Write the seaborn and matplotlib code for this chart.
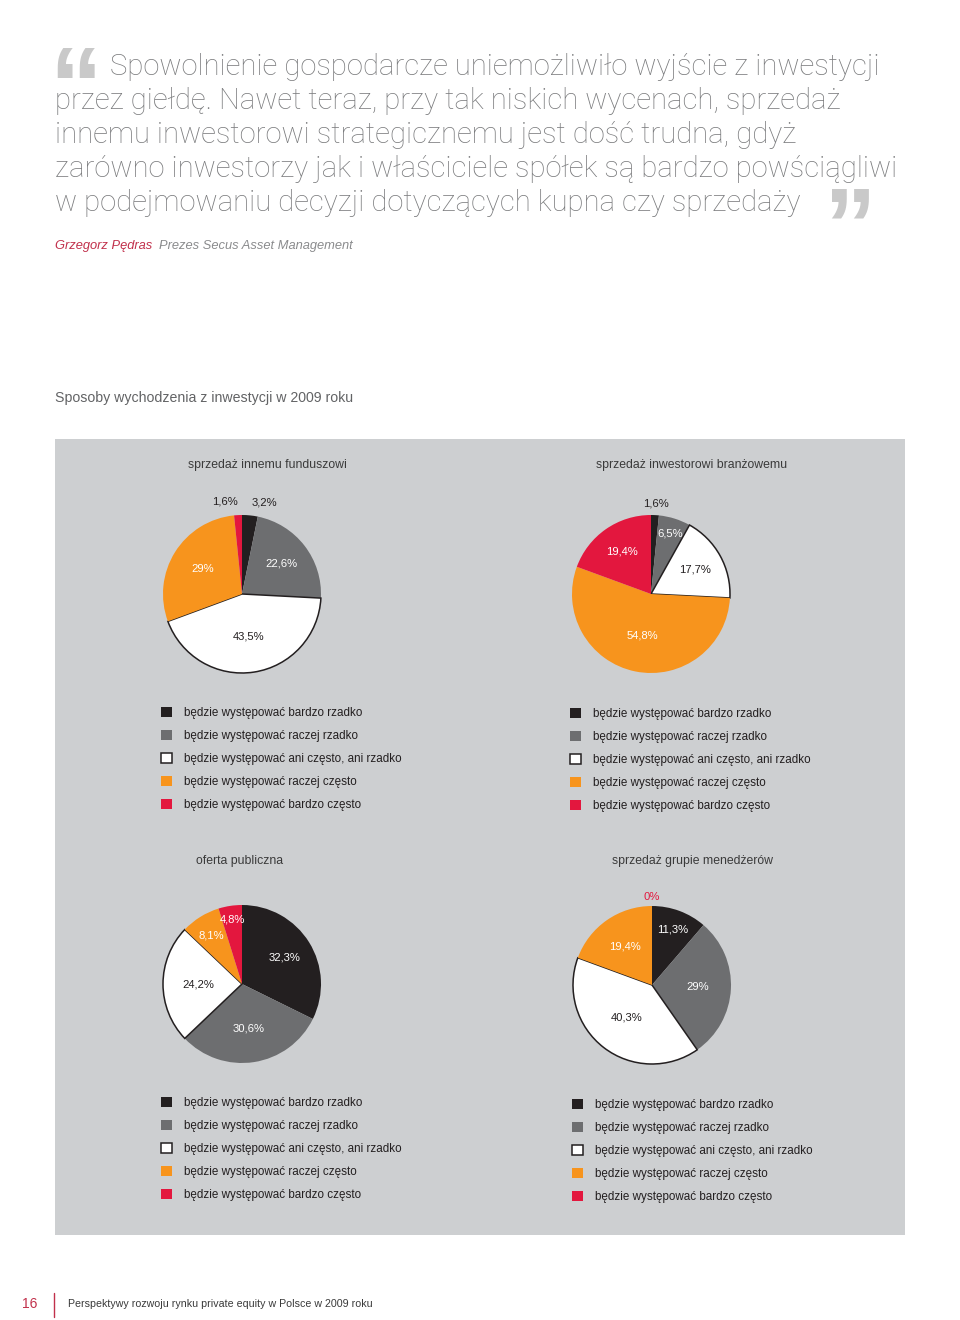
import numpy as np
import pandas as pd
import seaborn as sns
import matplotlib
matplotlib.use("Agg")
import matplotlib.pyplot as plt
from matplotlib.patches import Rectangle
from matplotlib.lines import Line2D

# ---------------- data ----------------
categories = [
    "będzie występować bardzo rzadko",
    "będzie występować raczej rzadko",
    "będzie występować ani często, ani rzadko",
    "będzie występować raczej często",
    "będzie występować bardzo często",
]
chart_titles = [
    "sprzedaż innemu funduszowi",
    "sprzedaż inwestorowi branżowemu",
    "oferta publiczna",
    "sprzedaż grupie menedżerów",
]
values_fundusz = [3.2, 22.6, 43.5, 29.0, 1.6]
values_branzowy = [1.6, 6.5, 17.7, 54.8, 19.4]
values_oferta = [32.3, 30.6, 24.2, 8.1, 4.8]
values_menedzerowie = [11.3, 29.0, 40.3, 19.4, 0.0]

quote_lines = [
    "Spowolnienie gospodarcze uniemożliwiło wyjście z inwestycji",
    "przez giełdę. Nawet teraz, przy tak niskich wycenach, sprzedaż",
    "innemu inwestorowi strategicznemu jest dość trudna, gdyż",
    "zarówno inwestorzy jak i właściciele spółek są bardzo powściągliwi",
    "w podejmowaniu decyzji dotyczących kupna czy sprzedaży",
]
author_name = "Grzegorz Pędras"
author_role = "Prezes Secus Asset Management"
section_title = "Sposoby wychodzenia z inwestycji w 2009 roku"
page_number = "16"
footer_text = "Perspektywy rozwoju rynku private equity w Polsce w 2009 roku"

# ---------------- style ----------------
sns.set_theme(style="white")
plt.rcParams["font.family"] = ["Liberation Sans", "DejaVu Sans"]

slice_colors = sns.color_palette(["#231f20", "#6d6e70", "#ffffff", "#f7941d", "#e3173e"])
PANEL = "#cdcfd1"
DARK = "#231f20"
RED = "#c1304b"

W, H = 960, 1320
fig = plt.figure(figsize=(W / 100, H / 100), dpi=100)
fig.patch.set_facecolor("white")


def fx(x):
    return x / W


def fy(y):
    return 1 - y / H


# gray panel
fig.add_artist(Rectangle((fx(55), fy(1235)), fx(905) - fx(55), fy(439) - fy(1235),
                         transform=fig.transFigure, facecolor=PANEL, edgecolor="none", zorder=0))

# quote
quote_font = dict(family=["Roboto", "Liberation Sans", "DejaVu Sans"], fontweight="light",
                  color="#7a7b7d", fontsize=21.1)
line_y = [67, 101, 135, 169, 203]
line_x = [110, 55, 55, 55, 55]
for t, x, y in zip(quote_lines, line_x, line_y):
    fig.text(fx(x), fy(y), t, ha="left", va="center", **quote_font)
fig.text(fx(49), fy(94), "\u201c", ha="left", va="center", fontsize=76, fontweight="bold",
         color="#c9c9c9", family=["Liberation Sans"])
fig.text(fx(823), fy(233), "\u201d", ha="left", va="center", fontsize=76, fontweight="bold",
         color="#c9c9c9", family=["Liberation Sans"])

fig.text(fx(55), fy(246), author_name, ha="left", va="center", fontsize=9.3,
         style="italic", color=RED)
fig.text(fx(159), fy(246), author_role, ha="left", va="center", fontsize=9.3,
         style="italic", color="#8a8b8d")

fig.text(fx(55), fy(398), section_title, ha="left", va="center", fontsize=10.2,
         color="#626365")

# footer
fig.text(fx(22), fy(1304), page_number, ha="left", va="center", fontsize=10, color=RED)
fig.add_artist(Line2D([fx(54), fx(54)], [fy(1293), fy(1317)], transform=fig.transFigure,
                      color=RED, lw=1))
fig.text(fx(68), fy(1304), footer_text, ha="left", va="center", fontsize=7.7, color="#3a3a3a")

# ---------------- pies ----------------
R = 79
S = 240
pies = [
    dict(values=values_fundusz, title=chart_titles[0], c=(242, 594), t=(267, 465),
         leg=(161, 707), dist=[1.17, 0.63, 0.55, 0.59, 1.17],
         ha=["left", "center", "center", "center", "right"]),
    dict(values=values_branzowy, title=chart_titles[1], c=(651, 594), t=(692, 465),
         leg=(570, 708), dist=[1.15, 0.80, 0.64, 0.53, 0.65],
         ha=["center"] * 5),
    dict(values=values_oferta, title=chart_titles[2], c=(242, 984), t=(240, 861),
         leg=(161, 1097), dist=[0.64, 0.57, 0.55, 0.73, 0.82],
         ha=["center"] * 5),
    dict(values=values_menedzerowie, title=chart_titles[3], c=(652, 985), t=(692, 861),
         leg=(572, 1099), dist=[0.75, 0.58, 0.52, 0.60, 1.11],
         ha=["center"] * 5),
]


def fmt(v):
    return f"{v:g}".replace(".", ",") + "%"


for p in pies:
    cx, cy = p["c"]
    ax = fig.add_axes([fx(cx - S / 2), fy(cy + S / 2), S / W, S / H])
    ax.set_facecolor("none")
    wedges, _ = ax.pie(p["values"], colors=slice_colors, startangle=90, counterclock=False,
                       radius=1, wedgeprops=dict(linewidth=0, edgecolor="none"))
    wedges[2].set_edgecolor(DARK)
    wedges[2].set_linewidth(1.1)
    lim = (S / 2) / R
    ax.set_xlim(-lim, lim)
    ax.set_ylim(-lim, lim)
    ax.set_aspect("equal")
    ax.axis("off")

    for i, (w, v) in enumerate(zip(wedges, p["values"])):
        th = np.deg2rad((w.theta1 + w.theta2) / 2)
        d = p["dist"][i]
        if d > 1:
            col = slice_colors[i] if v == 0 else DARK
        else:
            col = DARK if i == 2 else "white"
        ax.text(d * np.cos(th), d * np.sin(th), fmt(v), ha=p["ha"][i], va="center",
                fontsize=8.1, color=col)

    fig.text(fx(p["t"][0]), fy(p["t"][1]), p["title"], ha="center", va="center",
             fontsize=8.8, color="#3a3a3a")

    ax.legend(wedges, categories, loc="upper left",
              bbox_to_anchor=(fx(p["leg"][0]), fy(p["leg"][1])),
              bbox_transform=fig.transFigure, frameon=False, fontsize=8.4,
              handlelength=0.95, handleheight=0.95, handletextpad=1.05,
              labelspacing=0.93, borderpad=0, borderaxespad=0, labelcolor=DARK)

fig.savefig("out.png", dpi=100, facecolor="white")
